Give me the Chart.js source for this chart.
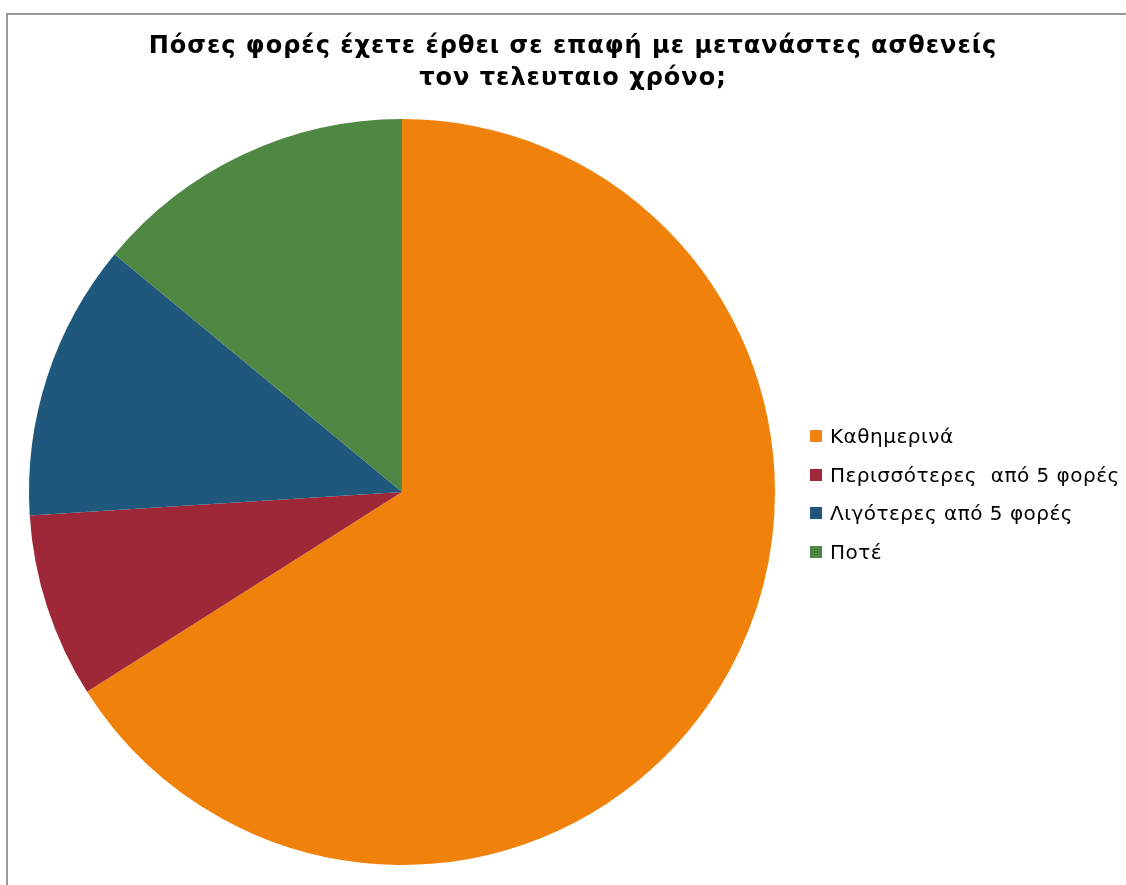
<!DOCTYPE html>
<html lang="el">
<head>
<meta charset="utf-8">
<title>Πόσες φορές έχετε έρθει σε επαφή με μετανάστες ασθενείς</title>
<script src="https://cdn.jsdelivr.net/npm/chart.js@4"></script>
<style>
  html, body { margin: 0; padding: 0; background: #fff; }
  body { width: 1126px; height: 885px; position: relative; overflow: hidden;
         font-family: "DejaVu Sans", Verdana, sans-serif; }
  #frame { position: absolute; left: 6px; top: 13px; width: 1200px; height: 1000px;
           border-left: 2px solid #9a9a9a; border-top: 2px solid #9a9a9a; }
  #pie { position: absolute; left: 0; top: 0; }
  #title { position: absolute; left: 73px; width: 1000px; top: 29px; text-align: center;
           font-weight: bold; font-size: 24px; line-height: 32px; letter-spacing: 1px; color: #000; }
  #legend { position: absolute; left: 810px; top: 424px; font-size: 20px; letter-spacing: 0.5px; color: #000; }
  #legend .item { height: 38.7px; display: flex; align-items: flex-start; white-space: pre; }
  #legend .box { width: 12px; height: 12px; margin-top: 6px; margin-right: 8px; }
</style>
</head>
<body>
<div id="frame"></div>
<canvas id="pie" width="1126" height="885"></canvas>
<div id="title">Πόσες φορές έχετε έρθει σε επαφή με μετανάστες ασθενείς<br>τον τελευταιο χρόνο;</div>
<div id="legend"></div>
<script>
// --- Data ---
const labels = ['Καθημερινά', 'Περισσότερες  από 5 φορές', 'Λιγότερες από 5 φορές', 'Ποτέ'];
const shares = [66, 8, 12, 14];
const colors = ['#f0820b', '#9e2738', '#1f587c', '#4e8843'];

// --- Pie ---
const ctx = document.getElementById('pie').getContext('2d');
const chart = new Chart(ctx, {
  type: 'pie',
  data: {
    labels: labels,
    datasets: [{ data: shares, backgroundColor: colors, borderWidth: 0 }]
  },
  options: {
    responsive: false,
    animation: false,
    layout: { padding: { left: 29, right: 351, top: 119, bottom: 20 } },
    plugins: {
      legend: { display: false },
      title: { display: false },
      tooltip: { enabled: false }
    }
  }
});

// --- Legend ---
const legend = document.getElementById('legend');
labels.forEach((name, i) => {
  const row = document.createElement('div');
  row.className = 'item';
  const box = document.createElement('span');
  box.className = 'box';
  box.style.background = colors[i];
  const txt = document.createElement('span');
  txt.textContent = name;
  row.appendChild(box);
  row.appendChild(txt);
  legend.appendChild(row);
});
</script>
</body>
</html>
